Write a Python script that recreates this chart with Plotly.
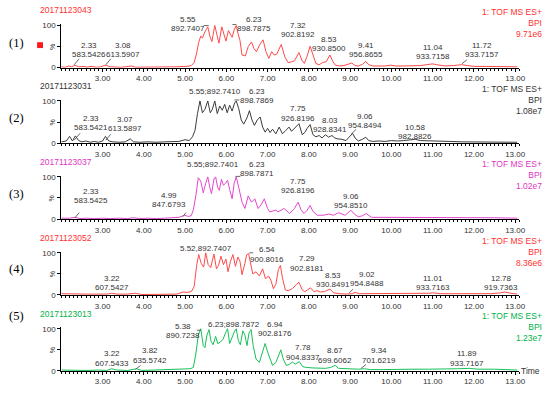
import plotly.graph_objects as go

W, H = 550, 394

# ---------------- data (time [min], relative intensity [%]) ----------------
series1 = [(2.00,2),(2.10,1),(2.18,4),(2.25,2),(2.33,6),(2.42,2),(2.55,3),(2.62,1),(2.72,3),(2.85,1),
           (2.95,2),(3.08,6),(3.18,2),(3.30,1),(3.45,1),(3.55,2),(3.70,4),(3.80,1),(4.00,1),(4.20,1),
           (4.40,1),(4.60,2),(4.80,2),(4.95,3),(5.05,3),(5.15,5),(5.22,12),(5.28,35),(5.33,60),(5.38,75),
           (5.42,70),(5.48,85),(5.55,97),(5.60,75),(5.65,62),(5.72,100),(5.78,75),(5.82,58),(5.89,97),(5.95,72),
           (5.99,63),(6.05,88),(6.10,77),(6.14,72),(6.19,90),(6.24,100),(6.29,78),(6.33,65),(6.38,30),(6.46,28),
           (6.53,50),(6.61,61),(6.67,45),(6.73,38),(6.81,55),(6.89,66),(6.96,38),(7.03,22),(7.10,38),(7.16,30),
           (7.22,32),(7.33,55),(7.42,25),(7.50,12),(7.58,14),(7.65,16),(7.76,36),(7.83,18),(7.89,10),(7.95,25),
           (8.03,51),(8.10,30),(8.17,10),(8.25,7),(8.33,12),(8.42,14),(8.51,30),(8.58,15),(8.64,6),(8.75,4),
           (8.85,5),(8.95,8),(9.04,11),(9.12,5),(9.20,4),(9.30,8),(9.38,15),(9.45,7),(9.55,4),(9.70,4),
           (9.85,4),(9.98,6),(10.10,4),(10.30,4),(10.50,4),(10.70,5),(10.85,7),(11.00,9),(11.10,7),(11.30,4),
           (11.50,5),(11.70,7),(11.85,5),(12.00,3),(12.30,3),(12.60,3),(12.90,2),(13.05,2)]

series2 = [(2.0,3),(2.12,5),(2.2,16),(2.27,5),(2.34,17),(2.42,6),(2.5,3),(2.6,5),(2.7,2),(2.8,4),(2.9,2),
           (3.0,5),(3.07,16),(3.15,5),(3.25,3),(3.4,2),(3.55,3),(3.67,10),(3.75,3),(3.9,2),(4.1,3),(4.3,2),
           (4.5,3),(4.7,3),(4.85,4),(5.0,8),(5.1,6),(5.18,15),(5.24,30),(5.3,70),(5.36,100),(5.42,72),(5.48,80),
           (5.55,100),(5.61,72),(5.66,80),(5.72,100),(5.78,70),(5.84,88),(5.9,78),(5.96,92),(6.02,72),(6.08,90),
           (6.14,76),(6.2,95),(6.24,100),(6.3,82),(6.36,55),(6.42,45),(6.5,60),(6.56,77),(6.62,55),(6.68,42),
           (6.75,55),(6.82,62),(6.88,38),(6.94,26),(7.0,35),(7.06,25),(7.12,33),(7.2,22),(7.28,38),(7.36,22),
           (7.44,30),(7.52,38),(7.58,28),(7.66,35),(7.76,46),(7.84,20),(7.9,25),(7.96,35),(8.03,44),(8.1,20),
           (8.17,15),(8.25,18),(8.32,12),(8.4,20),(8.48,14),(8.56,18),(8.63,12),(8.7,10),(8.8,9),(8.9,6),
           (8.98,15),(9.06,23),(9.12,12),(9.2,5),(9.3,9),(9.38,14),(9.45,6),(9.55,4),(9.7,5),(9.85,4),(10.0,6),
           (10.15,5),(10.3,6),(10.45,7),(10.58,9),(10.7,6),(10.9,5),(11.1,4),(11.4,4),(11.7,3),(12.0,3),
           (12.4,3),(12.8,2),(13.05,2)]

series3 = [(2.0,2),(2.2,2),(2.33,4),(2.45,1),(2.6,2),(2.8,1),(3.0,2),(3.2,1),(3.4,2),(3.6,1),(3.75,3),
           (3.9,1),(4.1,2),(4.3,1),(4.5,2),(4.7,3),(4.85,4),(4.99,9),(5.08,6),(5.15,8),(5.2,22),(5.26,55),
           (5.32,98),(5.38,90),(5.44,62),(5.5,85),(5.55,100),(5.6,75),(5.64,60),(5.7,95),(5.74,100),(5.79,75),
           (5.83,68),(5.88,94),(5.93,80),(5.98,85),(6.03,92),(6.08,70),(6.14,48),(6.19,85),(6.24,100),(6.3,75),
           (6.38,40),(6.45,25),(6.53,55),(6.61,40),(6.69,48),(6.77,25),(6.85,35),(6.92,48),(7.0,25),(7.05,17),
           (7.13,20),(7.2,21),(7.25,17),(7.33,22),(7.4,25),(7.53,13),(7.65,25),(7.74,40),(7.81,22),(7.88,13),
           (7.95,20),(8.03,32),(8.1,18),(8.2,9),(8.36,9),(8.48,12),(8.6,9),(8.72,15),(8.88,9),(9.02,21),
           (9.1,12),(9.2,5),(9.3,8),(9.39,13),(9.48,6),(9.52,4),(9.8,4),(10.2,4),(10.6,4),(11.0,3),(11.5,3),
           (12.0,3),(12.5,3),(13.05,2)]

series4 = [(2.0,3),(2.3,2),(2.6,2),(2.9,2),(3.1,2),(3.22,4),(3.35,2),(3.6,2),(3.8,4),(3.95,1),(4.2,1),
           (4.5,1),(4.8,2),(4.95,7),(5.05,6),(5.15,8),(5.22,20),(5.28,70),(5.33,96),(5.39,75),(5.45,66),
           (5.5,100),(5.56,72),(5.62,65),(5.7,97),(5.76,62),(5.81,70),(5.87,92),(5.93,72),(5.99,85),(6.04,55),
           (6.1,80),(6.16,96),(6.22,68),(6.28,90),(6.33,80),(6.38,48),(6.45,75),(6.49,95),(6.54,98),(6.59,75),
           (6.64,50),(6.72,55),(6.8,45),(6.88,62),(6.95,38),(7.02,45),(7.08,35),(7.14,15),(7.2,25),(7.26,60),
           (7.31,70),(7.36,40),(7.43,12),(7.5,10),(7.6,15),(7.7,25),(7.76,30),(7.84,12),(7.9,8),(7.97,12),
           (8.04,17),(8.12,8),(8.2,10),(8.28,7),(8.38,8),(8.51,14),(8.6,5),(8.75,3),(8.9,2),(9.05,3),(9.12,6),
           (9.22,3),(9.4,3),(9.7,3),(10.0,3),(10.3,3),(10.6,3),(10.9,4),(11.0,5),(11.2,3),(11.5,3),(11.8,3),
           (12.1,3),(12.4,3),(12.65,5),(12.75,7),(12.9,4),(13.05,2)]

series5 = [(2.0,2),(2.3,1),(2.6,1),(2.9,2),(3.1,1),(3.22,5),(3.35,2),(3.6,1),(3.82,5),(3.95,1),(4.2,2),
           (4.5,2),(4.8,3),(5.0,4),(5.12,5),(5.2,8),(5.26,40),(5.32,85),(5.38,100),(5.44,60),(5.48,55),
           (5.53,85),(5.58,98),(5.63,70),(5.68,62),(5.74,82),(5.79,65),(5.85,68),(5.92,75),(5.98,90),(6.03,100),
           (6.08,65),(6.14,80),(6.19,92),(6.24,100),(6.29,72),(6.34,62),(6.4,95),(6.45,85),(6.5,60),(6.55,90),
           (6.6,98),(6.65,60),(6.72,28),(6.8,20),(6.88,45),(6.94,65),(7.0,45),(7.06,30),(7.12,13),(7.2,20),
           (7.27,40),(7.32,50),(7.38,28),(7.45,13),(7.52,15),(7.6,21),(7.67,16),(7.77,22),(7.85,10),(7.95,8),
           (8.1,7),(8.25,6),(8.4,6),(8.52,8),(8.64,13),(8.72,6),(8.85,5),(9.0,4),(9.2,4),(9.34,5),(9.5,3),
           (9.8,3),(10.1,4),(10.5,4),(10.9,4),(11.3,4),(11.6,5),(11.89,6),(12.1,4),(12.5,4),(12.8,3),(13.05,2)]

sample_ids = ["20171123043", "20171123031", "20171123037", "20171123052", "20171123013"]
panel_tags = ["(1)", "(2)", "(3)", "(4)", "(5)"]
bpi_values = ["9.71e6", "1.08e7", "1.02e7", "8.36e6", "1.23e7"]
x_tick_values = [3, 4, 5, 6, 7, 8, 9, 10, 11, 12, 13]
x_tick_labels = ["3.00", "4.00", "5.00", "6.00", "7.00", "8.00", "9.00", "10.00", "11.00", "12.00", "13.00"]

peaks1 = [("2.33", "583.5426"), ("3.08", "613.5907"), ("5.55", "892.7407"), ("6.23", "898.7875"),
          ("7.32", "902.8192"), ("8.53", "930.8500"), ("9.41", "956.8655"), ("11.04", "933.7158"),
          ("11.72", "933.7157")]
peaks2 = [("2.33", "583.5421"), ("3.07", "613.5897"), ("5.55;892.7410", None), ("6.23", "898.7869"),
          ("7.75", "926.8196"), ("8.03", "928.8341"), ("9.06", "954.8494"), ("10.58", "982.8826")]
peaks3 = [("2.33", "583.5425"), ("4.99", "847.6793"), ("5.55;892.7401", None), ("6.23", "898.7871"),
          ("7.75", "926.8196"), ("9.06", "954.8510")]
peaks4 = [("3.22", "607.5427"), ("5.52,892.7407", None), ("6.54", "900.8016"), ("7.29", "902.8181"),
          ("8.53", "930.8491"), ("9.02", "954.8488"), ("11.01", "933.7163"), ("12.78", "919.7363")]
peaks5 = [("3.22", "607.5433"), ("3.82", "635.5742"), ("5.38", "890.7238"), ("6.23;898.7872", None),
          ("6.94", "902.8176"), ("7.78", "904.8337"), ("8.67", "699.6062"), ("9.34", "701.6219"),
          ("11.89", "933.7167")]

# ---------------- layout (pixel positions) ----------------
# label placement: (center x px, top-line y px)
label_pos = [
    [(90, 43), (124, 43), (190, 17), (257, 17), (301, 23), (333, 37), (370, 43), (438, 45), (487, 43)],
    [(92, 118), (126, 119), (217, 90), (260, 90), (301, 108), (334, 120), (369, 116), (420, 127)],
    [(92, 192), (171, 196), (215, 165), (260, 165), (301, 182), (355, 197)],
    [(113, 281), (208, 251), (270, 252), (310, 261), (337, 278), (371, 277), (438, 281), (507, 281)],
    [(113, 358), (152, 355), (185, 330), (237, 328), (278, 328), (306, 352), (339, 355), (383, 355), (472, 358)],
]
# small leader marks next to labelled peaks (x0, y0, x1, y1 in px)
leader_px = [
    (75, 63, 80, 57), (107, 63, 112, 57), (206, 23, 211, 23), (235, 22, 239, 22), (467, 62, 472, 58),
    (75, 140, 81, 133), (107, 140, 112, 134), (237, 99, 242, 99), (355, 134, 360, 129),
    (76, 219, 80, 214), (185, 218, 188, 214), (238, 177, 243, 177),
    (252, 255, 256, 255), (353, 296, 357, 292),
    (199, 334, 203, 334), (137, 374, 142, 370), (365, 373, 370, 369),
]
zero_px = [66, 143, 220.5, 298, 375.5]
span_px = 43.0
title_px = [7, 85, 162, 240, 317]
tag_px = [41, 117, 195, 272, 319]
line_colors = ["#ff4a4a", "#3c3c3c", "#e447cc", "#ff4a4a", "#16c157"]
text_colors = ["#ff3030", "#333333", "#e035c4", "#ff3030", "#00b24a"]
X0_PX, X1_PX = 62, 525
XR = [2.0, 13.1]
FONT = "Liberation Sans, Arial, sans-serif"
LBL = "#333333"

all_series = [series1, series2, series3, series4, series5]
all_peaks = [peaks1, peaks2, peaks3, peaks4, peaks5]

fig = go.Figure()
annotations = []
shapes = []

def px(x):
    return x / W

def py(y):
    return 1 - y / H

for k in range(5):
    n = k + 1
    xs = [p[0] for p in all_series[k]]
    ys = [p[1] for p in all_series[k]]
    xa = "x" if n == 1 else f"x{n}"
    ya = "y" if n == 1 else f"y{n}"
    fig.add_trace(go.Scatter(x=xs, y=ys, mode="lines", xaxis=xa, yaxis=ya,
                             line=dict(color=line_colors[k], width=1), hoverinfo="skip",
                             showlegend=False))
    z = zero_px[k]
    top = z - span_px * 1.03
    xkey = "xaxis" if n == 1 else f"xaxis{n}"
    ykey = "yaxis" if n == 1 else f"yaxis{n}"
    fig.layout[xkey] = dict(
        domain=[px(X0_PX), px(X1_PX)], range=XR, anchor=ya,
        showline=True, linecolor="black", linewidth=1, showgrid=False, zeroline=False,
        ticks="outside", ticklen=3, tickcolor="black", tickwidth=1,
        tickvals=x_tick_values, ticktext=x_tick_labels,
        tickfont=dict(family=FONT, size=8, color=LBL),
        minor=dict(ticks="outside", ticklen=2, dtick=0.1, tick0=2.0, tickcolor="black", tickwidth=1),
    )
    fig.layout[ykey] = dict(
        domain=[py(z), py(top)], range=[0, 103], anchor=xa,
        showline=True, linecolor="black", linewidth=1, showgrid=False, zeroline=False,
        ticks="outside", ticklen=3, tickcolor="black", tickwidth=1,
        tickvals=[0, 50, 100], ticktext=["0", "", "100"],
        tickfont=dict(family=FONT, size=8, color=LBL),
    )
    # sample id
    annotations.append(dict(x=px(38), y=py(title_px[k]), xref="paper", yref="paper", xanchor="left",
                            yanchor="middle", text=sample_ids[k], showarrow=False,
                            font=dict(family=FONT, size=8.5, color=text_colors[k])))
    # right labels (one block, right aligned)
    annotations.append(dict(x=px(549), y=py(title_px[k] - 3.5), xref="paper", yref="paper",
                            xanchor="right", yanchor="top", align="right",
                            text="1: TOF MS ES+<br>BPI<br>" + bpi_values[k], showarrow=False,
                            borderpad=0, font=dict(family=FONT, size=8.5, color=text_colors[k])))
    # panel tag
    annotations.append(dict(x=px(17), y=py(tag_px[k]), xref="paper", yref="paper", xanchor="center",
                            yanchor="middle", text=panel_tags[k], showarrow=False,
                            font=dict(family="Liberation Serif, Times New Roman, serif", size=12.5,
                                      color="black")))
    # % label
    annotations.append(dict(x=px(53), y=py(z - span_px * 0.5), xref="paper", yref="paper",
                            xanchor="center", yanchor="middle", text="%", textangle=-90, showarrow=False,
                            font=dict(family=FONT, size=7, color=LBL)))
    # peak labels
    for (t_txt, m_txt), (cx, cy) in zip(all_peaks[k], label_pos[k]):
        annotations.append(dict(x=px(cx), y=py(cy), xref="paper", yref="paper", xanchor="center",
                                yanchor="middle", text=t_txt, showarrow=False, borderpad=0,
                                font=dict(family=FONT, size=8, color=LBL)))
        if m_txt:
            annotations.append(dict(x=px(cx), y=py(cy + 9.5), xref="paper", yref="paper",
                                    xanchor="center", yanchor="middle", text=m_txt, showarrow=False,
                                    borderpad=0, font=dict(family=FONT, size=8, color=LBL)))

for (a, b, c, d) in leader_px:
    shapes.append(dict(type="line", xref="paper", yref="paper", x0=px(a), y0=py(b), x1=px(c), y1=py(d),
                       line=dict(color="#444444", width=0.8)))

# red square marker in panel 1
shapes.append(dict(type="rect", xref="paper", yref="paper", x0=px(37.5), x1=px(43.5), y0=py(46), y1=py(40),
                   fillcolor="#ff1a1a", line=dict(width=0)))
# "Time" axis label
annotations.append(dict(x=px(536), y=py(376), xref="paper", yref="paper", xanchor="center", yanchor="middle",
                        text="Time", showarrow=False, font=dict(family=FONT, size=8.5, color=LBL)))

fig.update_layout(width=W, height=H, margin=dict(l=0, r=0, t=0, b=0), paper_bgcolor="white",
                  plot_bgcolor="white", annotations=annotations, shapes=shapes, showlegend=False)
fig.write_html("out.html", config={"displayModeBar": False},
               post_script="document.body.style.margin='0';document.body.style.padding='0';"
                           "document.body.style.overflow='hidden';")
